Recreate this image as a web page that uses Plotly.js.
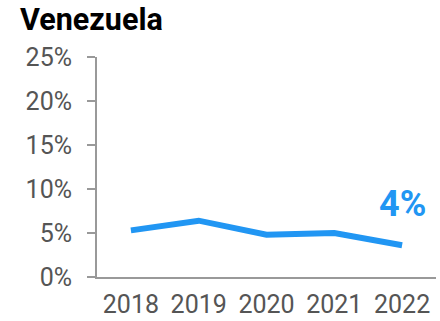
<!DOCTYPE html>
<html>
<head>
<meta charset="utf-8">
<script src="https://cdn.plot.ly/plotly-3.0.1.min.js"></script>
<style>html,body{margin:0;padding:0;background:#fff;}#chart{width:440px;height:321px;}</style>
</head>
<body>
<div id="chart"></div>
<script>
const years = [2018, 2019, 2020, 2021, 2022];
const values = [5.3, 6.4, 4.8, 5.0, 3.6];
const yTicks = [0, 5, 10, 15, 20, 25];
const yTickLabels = ['0%', '5%', '10%', '15%', '20%', '25%'];
const lastLabel = '4%';
const country = 'Venezuela';

const blue = '#2196F3';
const trace = {
  x: years, y: values, type: 'scatter', mode: 'lines',
  line: {color: blue, width: 6}, hoverinfo: 'skip'
};
const layout = {
  width: 440, height: 321,
  margin: {l: 97, r: 4, t: 57, b: 44},
  paper_bgcolor: '#fff', plot_bgcolor: '#fff',
  showlegend: false,
  font: {family: 'Roboto, sans-serif', color: '#555', size: 25},
  title: {text: '<b>' + country + '</b>', x: 20/440, xanchor: 'left', xref: 'container',
          y: 1 - 19/321, yanchor: 'middle', yref: 'container',
          font: {family: 'Roboto, sans-serif', size: 30.5, color: '#000'}},
  xaxis: {range: [2017.5, 2022.5], tickvals: years, ticktext: years.map(String),
          showgrid: false, zeroline: false, showline: true, linecolor: '#999', linewidth: 2,
          ticks: '', ticklabelstandoff: 4, fixedrange: true},
  yaxis: {range: [0, 25], tickvals: yTicks, ticktext: yTickLabels,
          showgrid: false, zeroline: false, showline: true, linecolor: '#999', linewidth: 2,
          ticks: 'outside', ticklen: 8, tickwidth: 2, tickcolor: '#999',
          ticklabelstandoff: 10, fixedrange: true},
  annotations: [{x: years[years.length - 1], y: 8.3, xref: 'x', yref: 'y',
                 text: '<b>' + lastLabel + '</b>', showarrow: false,
                 xanchor: 'center', yanchor: 'middle',
                 font: {family: 'Roboto, sans-serif', size: 36, color: blue}}]
};
Plotly.newPlot('chart', [trace], layout, {displayModeBar: false, staticPlot: true});
</script>
</body>
</html>
